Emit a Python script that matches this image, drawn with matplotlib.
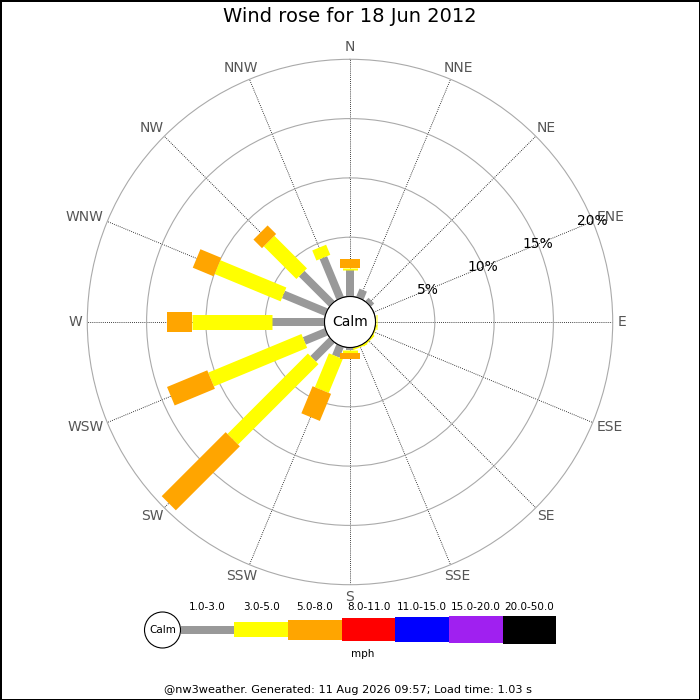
import numpy as np
import matplotlib
matplotlib.use("Agg")
import matplotlib.pyplot as plt
from matplotlib.patches import Circle, Rectangle

# ---- data ----
directions = ["N", "NNE", "NE", "ENE", "E", "ESE", "SE", "SSE",
              "S", "SSW", "SW", "WSW", "W", "WNW", "NW", "NNW"]
# percent of time per speed class (mph)
spd_1_3 = [2.2, 0.76, 0.4, 0, 0, 0, 0, 0,
           0.25, 0.97, 2.24, 2.02, 4.43, 3.92, 3.61, 3.72]
spd_3_5 = [0.2, 0, 0, 0, 0.15, 0.1, 0.15, 0.15,
           0.2, 3.09, 9.59, 8.51, 6.72, 6.03, 3.89, 0.92]
spd_5_8 = [0.75, 0, 0, 0, 0, 0, 0, 0,
           0.5, 2.47, 7.63, 3.67, 2.15, 1.9, 1.02, 0]
speed_classes = ["1.0-3.0", "3.0-5.0", "5.0-8.0", "8.0-11.0",
                 "11.0-15.0", "15.0-20.0", "20.0-50.0"]
class_colors = ["#999999", "#ffff00", "#ffa500", "#ff0000",
                "#0000ff", "#a020f0", "#000000"]
class_widths_px = [8, 15, 20, 23, 25, 27, 28]
ring_values = [5, 10, 15, 20]
title = "Wind rose for 18 Jun 2012"
footer = "@nw3weather. Generated: 11 Aug 2026 09:57; Load time: 1.03 s"

series = [spd_1_3, spd_3_5, spd_5_8]

fig = plt.figure(figsize=(7, 7), dpi=100)
fig.patch.set_facecolor("white")
fig.patch.set_edgecolor("black")
fig.patch.set_linewidth(2)

rmax = 20
rorig = 2.15
ax = fig.add_axes([0.1247, 0.1647, 0.7506, 0.7506], projection="polar")
ax.set_theta_zero_location("N")
ax.set_theta_direction(-1)
ax.set_rorigin(-rorig)
ax.set_ylim(0, rmax)

thetas = np.deg2rad(np.arange(16) * 22.5)
ax.set_xticks(thetas)
ax.set_xticklabels([])
ax.set_yticks(ring_values[:-1])
ax.set_yticklabels([])
ax.xaxis.grid(True, color="black", linestyle=(0, (1, 1.5)), linewidth=0.6)
ax.yaxis.grid(True, color="#aaaaaa", linestyle="-", linewidth=0.8)
ax.spines["polar"].set_color("#aaaaaa")
ax.spines["polar"].set_linewidth(0.8)

pt_per_px = 72.0 / fig.dpi
for i, th in enumerate(thetas):
    base = 0.0
    for k, vals in enumerate(series):
        v = vals[i]
        if v > 0:
            ax.plot([th, th], [base, base + v], color=class_colors[k],
                    linewidth=class_widths_px[k] * pt_per_px,
                    solid_capstyle="butt", zorder=3 + k)
        base += v

# direction labels: nearest side of the label box touches a circle
ax_px = 0.7506 * 700
label_r = 0.5 * 268.0 / (ax_px / 2)
renderer = fig.canvas.get_renderer()
for name, th in zip(directions, thetas):
    sx, sy = np.sin(th), np.cos(th)
    ann = ax.annotate(name, xy=(0.5 + label_r * sx, 0.5 + label_r * sy),
                      xycoords=ax.transAxes, xytext=(0, 0),
                      textcoords="offset pixels", ha="center", va="center",
                      fontsize=10, color="#555555", annotation_clip=False)
    bb = ann.get_window_extent(renderer)
    ann.xyann = (bb.width / 2 * sx, bb.height / 2 * sy)

th_lab = np.deg2rad(67.5)
for rv in ring_values:
    ax.text(th_lab, rv, f"{rv}%", ha="center", va="center",
            fontsize=10, color="black", zorder=10)

calm_frac = 0.5 * rorig / (rmax + rorig)
ax.add_patch(Circle((0.5, 0.5), calm_frac, transform=ax.transAxes,
                    facecolor="white", edgecolor="black", linewidth=0.8,
                    zorder=20, clip_on=False))
ax.text(0.5, 0.5, "Calm", transform=ax.transAxes, ha="center",
        va="center", fontsize=10, zorder=21)

fig.text(0.5, 1 - 17 / 700, title, ha="center", va="center", fontsize=14)

# ---- legend (pixel coordinates overlay) ----
lg = fig.add_axes([0, 0, 1, 1])
lg.set_xlim(0, 700)
lg.set_ylim(700, 0)
lg.axis("off")
lg.patch.set_alpha(0)
seg_w = 53.7
x0 = 180.5
yc = 629.5
lg.add_patch(Circle((162.5, 630), 18, facecolor="white", edgecolor="black",
                    linewidth=0.8))
lg.text(162.5, 630, "Calm", ha="center", va="center", fontsize=7.5)
for k, (lab, col, h) in enumerate(zip(speed_classes, class_colors,
                                      class_widths_px)):
    xs = x0 + k * seg_w
    lg.add_patch(Rectangle((xs, yc - h / 2), seg_w, h, facecolor=col,
                           edgecolor="none"))
    lg.text(xs + seg_w / 2, 607, lab, ha="center", va="center",
            fontsize=7.5)
lg.text(x0 + 3.4 * seg_w, 654, "mph", ha="center", va="center",
        fontsize=7.5)
lg.text(348, 690, footer, ha="center", va="center", fontsize=8.1)

fig.savefig("out.png", dpi=100, facecolor="white", edgecolor="black")
